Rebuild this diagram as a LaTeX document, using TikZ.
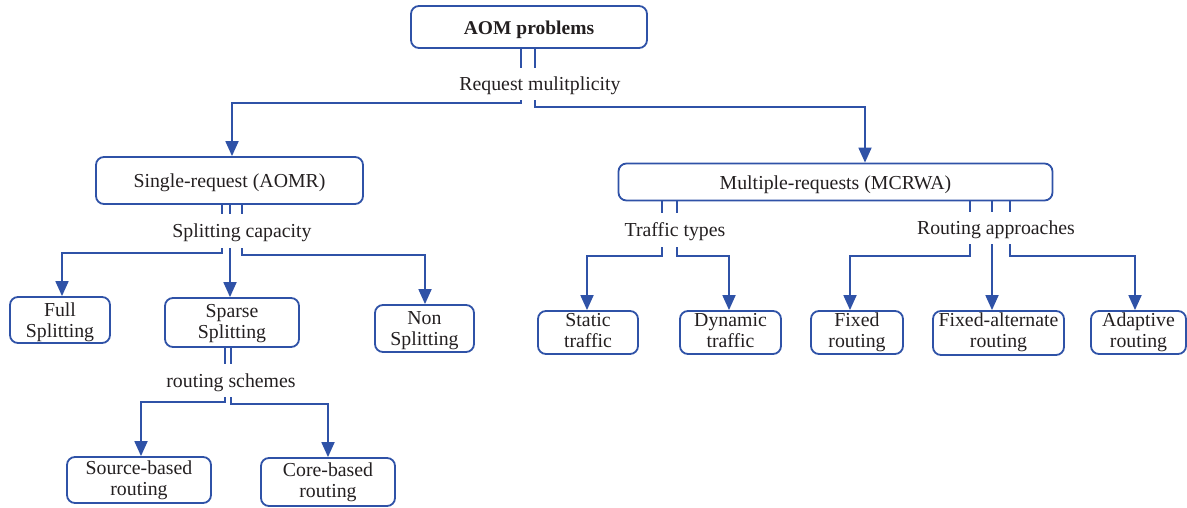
\documentclass[tikz,border=0pt]{standalone}
\usepackage{fontspec}
\setmainfont{Liberation Serif}
\usetikzlibrary{arrows.meta}
\definecolor{lineblue}{RGB}{47,82,167}
\definecolor{txt}{RGB}{35,31,32}
\begin{document}
\begin{tikzpicture}[x=1pt,y=-1pt,
  box/.style={draw=lineblue, line width=1.8pt, rounded corners=8pt, inner sep=0pt, align=center, text=txt, font=\fontsize{19.8}{21}\selectfont, execute at begin node={\rule{0pt}{18.5pt}}},
  two/.style={text height=#1, text depth=0pt},
  two/.default=31pt,
  lbl/.style={inner sep=0pt, text=txt, font=\fontsize{19.8}{22}\selectfont, execute at begin node={\rule{0pt}{18pt}}},
  ln/.style={draw=lineblue, line width=1.8pt},
  arr/.style={ln, -{Triangle[length=15pt,width=13pt]}}]
\useasboundingbox (0,0) rectangle (1187,508);

% nodes
\node[box, minimum width=236, minimum height=42, font=\fontsize{19.5}{22}\selectfont\bfseries] (aom) at (529,27) {AOM problems};
\node[lbl, minimum height=32] (req) at (540,84) {Request mulitplicity};

\node[box, minimum width=267, minimum height=47] (single) at (229.5,180.5) {Single-request (AOMR)};
\node[lbl, minimum height=34] (split) at (242,231) {Splitting capacity};
\node[box, two=34pt, minimum width=100, minimum height=46] (full) at (60,320) {Full\\Splitting};
\node[box, two=31pt, minimum width=134, minimum height=49] (sparse) at (232,322.5) {Sparse\\Splitting};
\node[box, two=33pt, minimum width=99, minimum height=47] (non) at (424.5,328.5) {Non\\Splitting};
\node[lbl, minimum height=33] (rs) at (231,380.5) {routing schemes};
\node[box, two=30pt, minimum width=144, minimum height=46] (source) at (139,480) {Source-based\\routing};
\node[box, two=30pt, minimum width=134, minimum height=48] (core) at (328,482) {Core-based\\routing};

\node[box, minimum width=434, minimum height=37] (multi) at (835.5,182) {Multiple-requests (MCRWA)};
\node[lbl, minimum height=34] (traffic) at (675,230) {Traffic types};
\node[lbl, minimum height=32] (ra) at (996,228) {Routing approaches};
\node[box, two=29pt, minimum width=100, minimum height=43] (static) at (588,332.5) {Static\\traffic};
\node[box, two=29pt, minimum width=101, minimum height=43] (dynamic) at (730.5,332.5) {Dynamic\\traffic};
\node[box, two=29pt, minimum width=92, minimum height=43] (fixed) at (857,332.5) {Fixed\\routing};
\node[box, two=29pt, minimum width=131, minimum height=44] (fa) at (998.5,333) {Fixed-alternate\\routing};
\node[box, two=29pt, minimum width=95, minimum height=43] (adaptive) at (1138.5,332.5) {Adaptive\\routing};

% AOM -> request multiplicity
\draw[ln] ([xshift=-8]aom.south) -- ([xshift=-19]req.north);
\draw[ln] ([xshift=6]aom.south) -- ([xshift=-5]req.north);
\draw[arr] ([xshift=-19]req.south) -- ++(0,3) -| ([xshift=2.5]single.north);
\draw[arr] ([xshift=-5]req.south) -- ++(0,7) -| ([xshift=29.5]multi.north);

% single -> splitting capacity
\draw[ln] ([xshift=-7.5]single.south) -- ([xshift=-20]split.north);
\draw[ln] ([xshift=0.5]single.south) -- ([xshift=-12]split.north);
\draw[ln] ([xshift=12.5]single.south) -- ([xshift=0]split.north);
\draw[arr] ([xshift=-20]split.south) -- ++(0,5) -| ([xshift=2]full.north);
\draw[arr] ([xshift=-12]split.south) -- ([xshift=-2]sparse.north);
\draw[arr] ([xshift=0]split.south) -- ++(0,7) -| ([xshift=0.5]non.north);

% sparse -> routing schemes
\draw[ln] ([xshift=-7]sparse.south) -- ([xshift=-6]rs.north);
\draw[ln] ([xshift=-1]sparse.south) -- ([xshift=0]rs.north);
\draw[arr] ([xshift=-6]rs.south) -- ++(0,5) -| ([xshift=2]source.north);
\draw[arr] ([xshift=0]rs.south) -- ++(0,7) -| (core.north);

% multi -> traffic types
\draw[ln] ([xshift=-173.5]multi.south) -- ([xshift=-13]traffic.north);
\draw[ln] ([xshift=-158.5]multi.south) -- ([xshift=2]traffic.north);
\draw[arr] ([xshift=-13]traffic.south) -- ++(0,9) -| ([xshift=-1]static.north);
\draw[arr] ([xshift=2]traffic.south) -- ++(0,9) -| ([xshift=-1.5]dynamic.north);

% multi -> routing approaches
\draw[ln] ([xshift=134.5]multi.south) -- ([xshift=-26]ra.north);
\draw[ln] ([xshift=156.5]multi.south) -- ([xshift=-4]ra.north);
\draw[ln] ([xshift=174.5]multi.south) -- ([xshift=14]ra.north);
\draw[arr] ([xshift=-26]ra.south) -- ++(0,12) -| ([xshift=-7]fixed.north);
\draw[arr] ([xshift=-4]ra.south) -- ([xshift=-6.5]fa.north);
\draw[arr] ([xshift=14]ra.south) -- ++(0,12) -| ([xshift=-3.5]adaptive.north);
\end{tikzpicture}
\end{document}
